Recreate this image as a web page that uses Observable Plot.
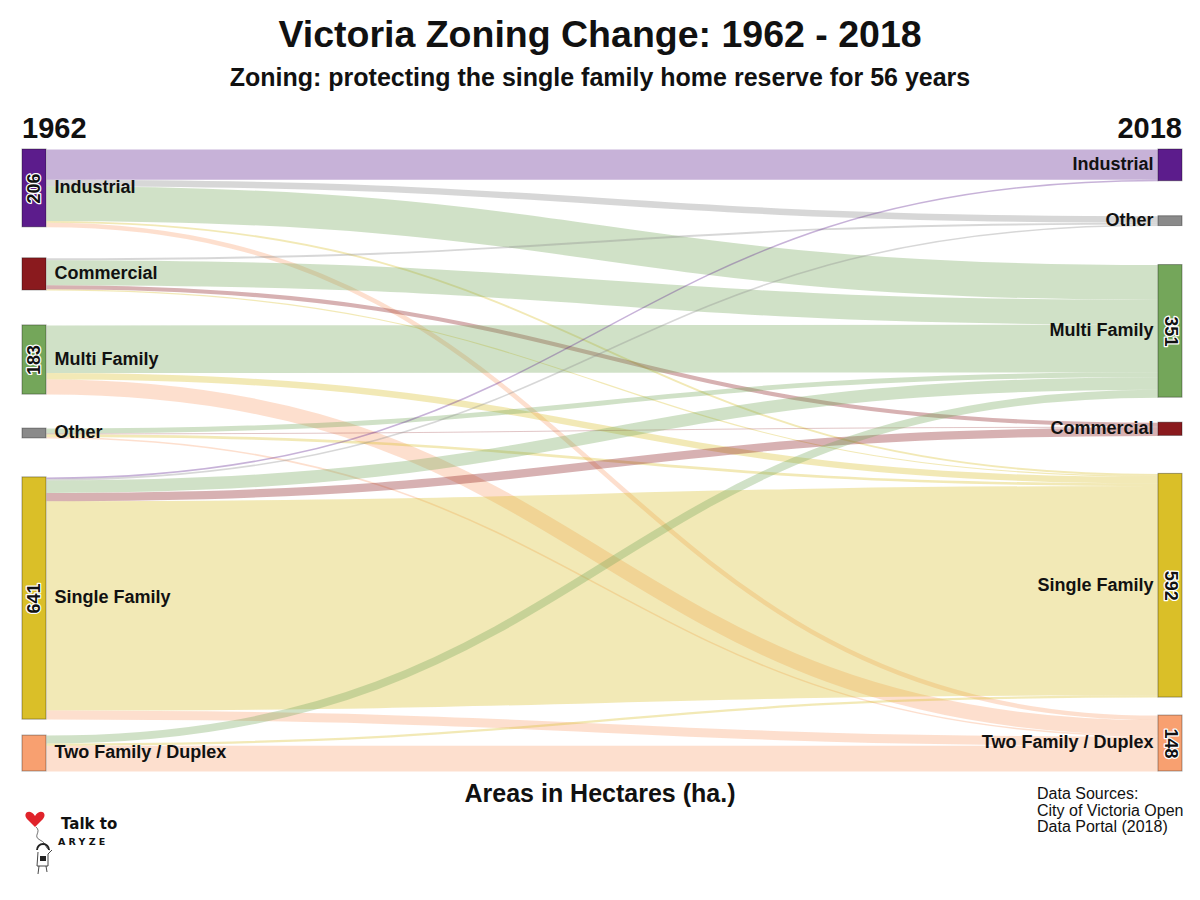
<!DOCTYPE html>
<html>
<head>
<meta charset="utf-8">
<script src="https://cdn.jsdelivr.net/npm/d3@7"></script>
<script src="https://cdn.jsdelivr.net/npm/@observablehq/plot@0.6"></script>
<style>
  body { margin: 0; background: #fff; font-family: "Liberation Sans", Arial, sans-serif; color: #111; }
  #page { position: relative; width: 1200px; height: 900px; overflow: hidden; background: #fff; }
  #title { position: absolute; top: 12px; left: 0; width: 1200px; text-align: center; font-weight: bold; font-size: 37.5px; line-height: 44px; }
  #subtitle { position: absolute; top: 62px; left: 0; width: 1200px; text-align: center; font-weight: bold; font-size: 25px; line-height: 30px; }
  .year { position: absolute; top: 111px; font-weight: bold; font-size: 29px; line-height: 34px; }
  #yl { left: 22px; }
  #yr { right: 18px; }
  #chart { position: absolute; top: 100px; left: 0; }
  #xlabel { position: absolute; top: 778px; left: 0; width: 1200px; text-align: center; font-weight: bold; font-size: 25px; line-height: 30px; }
  #source { position: absolute; top: 786px; left: 1037px; font-size: 16px; line-height: 16.5px; }
  #logo { position: absolute; top: 804px; left: 20px; width: 100px; height: 72px; }
</style>
</head>
<body>
<div id="page">
  <div id="title">Victoria Zoning Change: 1962 - 2018</div>
  <div id="subtitle">Zoning: protecting the single family home reserve for 56 years</div>
  <div class="year" id="yl">1962</div>
  <div class="year" id="yr">2018</div>
  <div id="chart"></div>
  <div id="xlabel">Areas in Hectares (ha.)</div>
  <div id="source">Data Sources:<br>City of Victoria Open<br>Data Portal (2018)</div>
  <svg id="logo" viewBox="0 0 100 72" width="100" height="72">
    <path d="M15,12 C10,4 2,9 7,15 L15,23 L23,15 C28,9 20,4 15,12 Z" fill="#e0232b"/>
    <path d="M16,23 C22,28 12,32 20,36 C28,40 24,44 30,46" fill="none" stroke="#333" stroke-width="0.7"/>
    <path d="M17,46 A6,6 0 1 1 29,46" fill="none" stroke="#222" stroke-width="1.8"/>
    <path d="M18,48 L17,62 L28,62 L28,50 M28,50 L32,46" fill="none" stroke="#333" stroke-width="0.9"/>
    <rect x="20" y="52" width="6" height="5" fill="#222"/>
    <path d="M19,62 L18,70 M26,62 L27,68" fill="none" stroke="#333" stroke-width="0.9"/>
    <text x="41" y="25" font-family="DejaVu Sans, sans-serif" font-weight="bold" font-size="15" fill="#111">Talk to</text>
    <text x="38" y="41" font-family="DejaVu Sans, sans-serif" font-weight="bold" font-size="9.5" letter-spacing="3.2" fill="#111">ARYZE</text>
  </svg>
</div>
<script>
// ---------------- DATA ----------------
const leftNodes  = ["Industrial", "Commercial", "Multi Family", "Other", "Single Family", "Two Family / Duplex"];
const rightNodes = ["Industrial", "Other", "Multi Family", "Commercial", "Single Family", "Two Family / Duplex"];
const zoneOrder  = ["Industrial", "Commercial", "Multi Family", "Other", "Single Family", "Two Family / Duplex"];
const nodeColors = ["#5c1c8c", "#8a1a1e", "#74a65a", "#8a8a8a", "#dabf28", "#f8a070"]; // same order as zoneOrder

// flows 1962 zone -> 2018 zone (hectares)
const flowSource = [
  "Industrial", "Industrial", "Industrial", "Industrial", "Industrial",
  "Commercial", "Commercial", "Commercial", "Commercial",
  "Multi Family", "Multi Family", "Multi Family",
  "Other", "Other", "Other", "Other",
  "Single Family", "Single Family", "Single Family", "Single Family", "Single Family", "Single Family",
  "Two Family / Duplex", "Two Family / Duplex", "Two Family / Duplex"
];
const flowTarget = [
  "Industrial", "Other", "Multi Family", "Single Family", "Two Family / Duplex",
  "Other", "Multi Family", "Commercial", "Single Family",
  "Multi Family", "Single Family", "Two Family / Duplex",
  "Multi Family", "Commercial", "Single Family", "Two Family / Duplex",
  "Industrial", "Other", "Multi Family", "Commercial", "Single Family", "Two Family / Duplex",
  "Multi Family", "Single Family", "Two Family / Duplex"
];
const flowValue = [
  80, 17, 92, 5, 12,
  5, 66, 11, 3,
  126, 17, 40,
  13, 2, 7, 4,
  4, 4, 33, 22, 554, 24,
  21, 6, 68
];

// ---------------- LAYOUT ----------------
const W = 1200, H = 690;
const yTop = 49, yBottom = 671;           // vertical extent of node columns (px)
const leftGapsPx  = [31, 35, 34, 39, 16];  // spacing between nodes (px)
const rightGapsPx = [35, 39, 25, 38, 18];
const nodeW = 24 / 1160;                   // node width as fraction of x domain

const flows = flowValue.map((v, i) => ({source: flowSource[i], target: flowTarget[i], value: v}));
const total = d3.sum(flowValue);
const gapSum = d3.sum(leftGapsPx);
const k = (yBottom - yTop - gapSum) / total; // px per hectare
const D = total + gapSum / k;

function column(names, gaps, side, key) {
  let y = 0;
  return names.map((n, i) => {
    if (i > 0) y += gaps[i - 1] / k;
    const v = d3.sum(flows.filter(f => f[key] === n), f => f.value);
    const node = {name: n, side, y0: y, y1: y + v, value: v};
    y += v;
    return node;
  });
}
const left = column(leftNodes, leftGapsPx, "L", "source");
const right = column(rightNodes, rightGapsPx, "R", "target");
const nodes = left.concat(right);

// stack link ends
left.forEach(n => {
  let y = n.y0;
  flows.filter(f => f.source === n.name)
    .sort((a, b) => rightNodes.indexOf(a.target) - rightNodes.indexOf(b.target))
    .forEach(f => { f.sy = y + f.value / 2; y += f.value; });
});
right.forEach(n => {
  let y = n.y0;
  flows.filter(f => f.target === n.name)
    .sort((a, b) => leftNodes.indexOf(a.source) - leftNodes.indexOf(b.source))
    .forEach(f => { f.ty = y + f.value / 2; y += f.value; });
});

const nx1 = d => d.side === "L" ? 0 : 1 - nodeW;
const nx2 = d => d.side === "L" ? nodeW : 1;
const mid = d => (d.y0 + d.y1) / 2;

const chart = Plot.plot({
  width: W,
  height: H,
  x: {domain: [0, 1], range: [22, 1182], axis: null},
  y: {domain: [0, D], range: [yTop, yBottom], axis: null},
  color: {domain: zoneOrder, range: nodeColors},
  style: {fontFamily: "'Liberation Sans', Arial, sans-serif", background: "transparent"},
  marks: [
    Plot.link(flows, {
      x1: d => nodeW, x2: d => 1 - nodeW,
      y1: "sy", y2: "ty",
      curve: "bump-x",
      stroke: "target",
      strokeOpacity: 0.34,
      strokeWidth: d => d.value * k
    }),
    Plot.rect(nodes, {x1: nx1, x2: nx2, y1: "y0", y2: "y1", fill: "name"}),
    Plot.rect(nodes, {x1: nx1, x2: nx2, y1: "y0", y2: "y1", fill: "none", stroke: "#000", strokeOpacity: 0.35, strokeWidth: 1}),
    Plot.text(left, {x: d => nodeW, y: mid, text: "name", textAnchor: "start", dx: 8, dy: -1, fontSize: 18, fontWeight: "bold", fill: "#111"}),
    Plot.text(right, {x: d => 1 - nodeW, y: mid, text: "name", textAnchor: "end", dx: -5, dy: -1, fontSize: 18, fontWeight: "bold", fill: "#111"}),
    Plot.text(left.filter(d => d.value > 120), {x: d => nodeW / 2, y: mid, text: d => String(d.value), rotate: -90, fontSize: 18, fontWeight: "bold", fill: "#111", stroke: "white", strokeWidth: 2.5}),
    Plot.text(right.filter(d => d.value > 120), {x: d => 1 - nodeW / 2, y: mid, text: d => String(d.value), rotate: 90, fontSize: 18, fontWeight: "bold", fill: "#111", stroke: "white", strokeWidth: 2.5})
  ]
});
document.getElementById("chart").appendChild(chart);
</script>
</body>
</html>
